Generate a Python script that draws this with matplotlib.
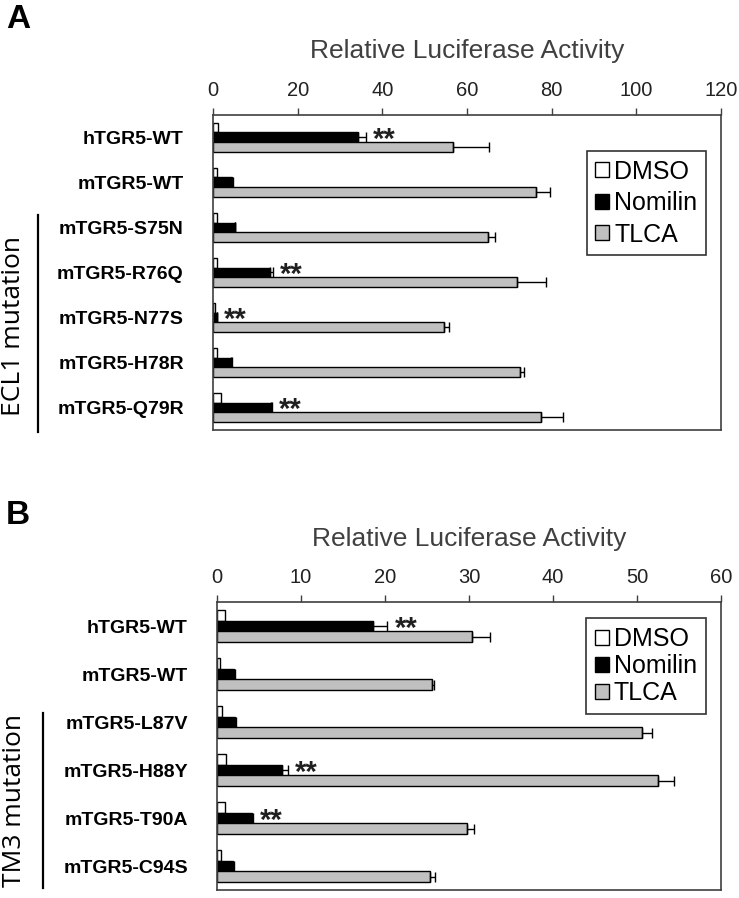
import numpy as np
import matplotlib
matplotlib.use('Agg')
import matplotlib.pyplot as plt
from matplotlib.patches import Patch

plt.rcParams['font.family'] = ['Liberation Sans', 'DejaVu Sans']

# panel A: ECL1 mutants
cats_a = ['hTGR5-WT', 'mTGR5-WT', 'mTGR5-S75N', 'mTGR5-R76Q',
          'mTGR5-N77S', 'mTGR5-H78R', 'mTGR5-Q79R']
dmso_a = [1.2, 0.9, 1.0, 1.0, 0.4, 0.9, 2.0]
nomilin_a = [34.3, 4.4, 5.2, 13.4, 0.9, 4.3, 13.7]
nomilin_err_a = [1.9, 0.4, 0.1, 0.7, 0.1, 0.2, 0.3]
tlca_a = [56.7, 76.2, 64.9, 71.9, 54.5, 72.6, 77.4]
tlca_err_a = [8.5, 3.5, 1.7, 6.8, 1.2, 0.9, 5.2]
sig_a = ['**', '', '', '**', '**', '', '**']

# panel B: TM3 mutants
cats_b = ['hTGR5-WT', 'mTGR5-WT', 'mTGR5-L87V', 'mTGR5-H88Y',
          'mTGR5-T90A', 'mTGR5-C94S']
dmso_b = [1.0, 0.4, 0.6, 1.1, 1.0, 0.45]
nomilin_b = [18.6, 2.05, 2.1, 7.8, 4.2, 1.9]
nomilin_err_b = [1.7, 0.1, 0.15, 0.6, 0.05, 0.1]
tlca_b = [30.4, 25.6, 50.6, 52.5, 29.8, 25.4]
tlca_err_b = [2.1, 0.2, 1.2, 1.9, 0.8, 0.6]
sig_b = ['**', '', '', '**', '**', '']

treatments = ['DMSO', 'Nomilin', 'TLCA']
colors = ['white', 'black', '#c0c0c0']
spine_col = '#404040'


def panel(ax, cats, dmso, nom, nom_err, tlca, tlca_err, sig, xmax, step,
          leg_anchor, leg_space):
    y = np.arange(len(cats))
    h = 0.22
    ekw = dict(ecolor='black', elinewidth=1, capsize=3.5, capthick=1)
    ax.barh(y - h, dmso, h, color=colors[0], edgecolor='black', linewidth=1)
    ax.barh(y, nom, h, color=colors[1], edgecolor='black', linewidth=1,
            xerr=[np.zeros(len(nom)), nom_err], error_kw=ekw)
    ax.barh(y + h, tlca, h, color=colors[2], edgecolor='black', linewidth=1,
            xerr=[np.zeros(len(tlca)), tlca_err], error_kw=ekw)
    for i, s in enumerate(sig):
        if s:
            ax.annotate(s, (nom[i] + nom_err[i], y[i]), xytext=(5, -2),
                        textcoords='offset points', ha='left', va='center',
                        fontsize=21, fontweight='bold', color='#202020')
    ax.set_ylim(len(cats) - 0.5, -0.5)
    ax.set_xlim(0, xmax)
    ax.set_xticks(np.arange(0, xmax + 1, step))
    ax.xaxis.tick_top()
    ax.xaxis.set_label_position('top')
    ax.tick_params(axis='x', direction='out', length=5, width=1,
                   color=spine_col, labelsize=14.5, labelcolor='#222222', pad=6)
    ax.set_xlabel('Relative Luciferase Activity', fontsize=19,
                  color='#404040', labelpad=16)
    ax.set_yticks(y)
    ax.set_yticklabels(cats, fontsize=14, fontweight='bold')
    ax.tick_params(axis='y', length=0, pad=21)
    for sp in ax.spines.values():
        sp.set_color(spine_col)
        sp.set_linewidth(1.2)
    handles = [Patch(facecolor=c, edgecolor='black', linewidth=1) for c in colors]
    leg = ax.legend(handles, treatments, loc='upper right',
                    bbox_to_anchor=leg_anchor, borderaxespad=0,
                    fontsize=18, frameon=True, fancybox=False,
                    handlelength=0.55, handleheight=0.55, handletextpad=0.2,
                    labelspacing=leg_space, borderpad=0.35)
    leg.get_frame().set_edgecolor('black')
    leg.get_frame().set_linewidth(1.2)


fig = plt.figure(figsize=(7.39, 8.98), dpi=100)

ax_a = fig.add_axes([0.2882, 0.5212, 0.6874, 0.3508])
panel(ax_a, cats_a, dmso_a, nomilin_a, nomilin_err_a, tlca_a, tlca_err_a,
      sig_a, 120, 20, (0.9705, 0.8857), 0.3)
ax_a.plot([-0.3445, -0.3445], [0.683, -0.006], transform=ax_a.transAxes,
          color='black', linewidth=1.6, clip_on=False)
ax_a.text(-0.392, 0.33, 'ECL1 mutation', transform=ax_a.transAxes,
          rotation=90, ha='center', va='center', fontsize=19,
          family=['Open Sans', 'DejaVu Sans'])

ax_b = fig.add_axes([0.2936, 0.0089, 0.6820, 0.3207])
panel(ax_b, cats_b, dmso_b, nomilin_b, nomilin_err_b, tlca_b, tlca_err_b,
      sig_b, 60, 10, (0.970, 0.944), 0.12)
ax_b.plot([-0.345, -0.345], [0.615, 0.007], transform=ax_b.transAxes,
          color='black', linewidth=1.6, clip_on=False)
ax_b.text(-0.401, 0.3125, 'TM3 mutation', transform=ax_b.transAxes,
          rotation=90, ha='center', va='center', fontsize=19,
          family=['Open Sans', 'DejaVu Sans'])

fig.text(0.008, 0.996, 'A', fontsize=24, fontweight='bold', va='top')
fig.text(0.008, 0.443, 'B', fontsize=24, fontweight='bold', va='top')

fig.savefig('out.png', dpi=100)
